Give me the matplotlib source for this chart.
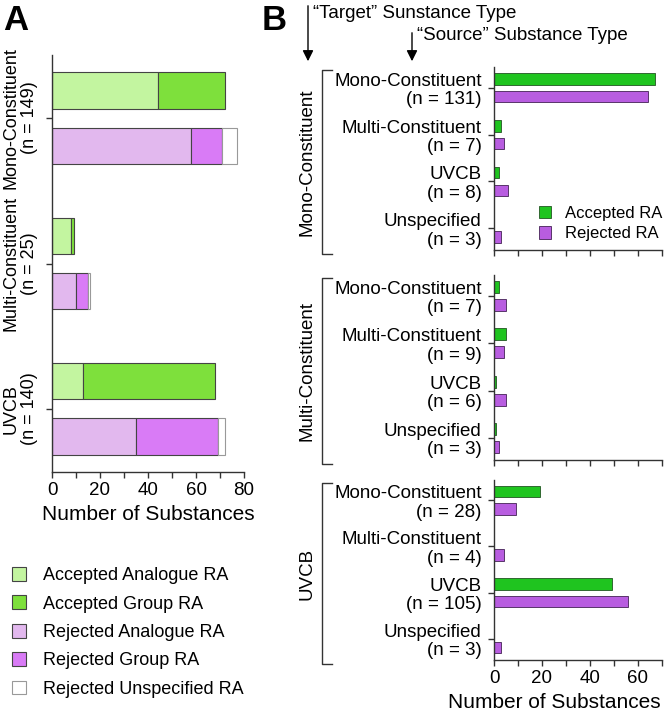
import numpy as np
import matplotlib
matplotlib.use('Agg')
import matplotlib.pyplot as plt

plt.rcParams['font.family'] = ['Liberation Sans', 'DejaVu Sans']

# ---- panel A data: RA outcome per substance type ----
groups_a = ['Mono-Constituent\n(n = 149)', 'Multi-Constituent\n(n = 25)', 'UVCB\n(n = 140)']
acc_analogue = [44, 8, 13]
acc_group = [28, 1, 55]
rej_analogue = [58, 10, 35]
rej_group = [13, 5, 34]
rej_unspec = [6, 1, 3]

# ---- panel B data: target type -> source type ----
target_types = ['Mono-Constituent', 'Multi-Constituent', 'UVCB']
source_types = ['Mono-Constituent', 'Multi-Constituent', 'UVCB', 'Unspecified']
source_n = [[131, 7, 8, 3], [7, 9, 6, 3], [28, 4, 105, 3]]
accepted_b = [[67, 3, 2, 0], [2, 5, 1, 1], [19, 0, 49, 0]]
rejected_b = [[64, 4, 6, 3], [5, 4, 5, 2], [9, 4, 56, 3]]

W, H = 665, 719
fig = plt.figure(figsize=(W / 100, H / 100), dpi=100)


def add_ax(l, t, r, b):
    return fig.add_axes([l / W, 1 - b / H, (r - l) / W, (b - t) / H])


def style_ax(ax, xmax):
    for s in ['top', 'right']:
        ax.spines[s].set_visible(False)
    for s in ['left', 'bottom']:
        ax.spines[s].set_color('#333333')
        ax.spines[s].set_linewidth(1.0)
    ax.set_xlim(0, xmax)
    ax.set_xticks(np.arange(0, xmax + 1, 20))
    ax.set_xticks(np.arange(10, xmax + 1, 20), minor=True)
    ax.tick_params(axis='both', which='both', direction='out', length=4,
                   width=1, color='#333333', labelsize=13.5)


##############################################################################
# panel A
c_acc_an, c_acc_gr = '#c3f5a0', '#7ee03c'
c_rej_an, c_rej_gr = '#e2b8ee', '#d97bf6'
edge = '#444444'

axA = add_ax(52, 55, 244, 472)
ya = np.arange(len(groups_a))
off, h = 0.19, 0.25
left = np.zeros(3)
for vals, col, lab in [(acc_analogue, c_acc_an, 'Accepted Analogue RA'),
                       (acc_group, c_acc_gr, 'Accepted Group RA')]:
    axA.barh(ya - off, vals, h, left=left, color=col, edgecolor=edge, lw=0.8, label=lab)
    left = left + np.array(vals)
left = np.zeros(3)
for vals, col, lab in [(rej_analogue, c_rej_an, 'Rejected Analogue RA'),
                       (rej_group, c_rej_gr, 'Rejected Group RA'),
                       (rej_unspec, 'white', 'Rejected Unspecified RA')]:
    axA.barh(ya + off, vals, h, left=left, color=col, edgecolor=edge if col != 'white' else '#999999',
             lw=0.8, label=lab)
    left = left + np.array(vals)

style_ax(axA, 80)
axA.set_ylim(2.434, -0.434)
axA.set_yticks(ya)
axA.set_yticklabels(groups_a, rotation=90, va='center', ha='right',
                    multialignment='center', fontsize=13, linespacing=1.15)
axA.tick_params(axis='y', pad=6)
axA.set_xlabel('Number of Substances', fontsize=15, labelpad=4)

fig.legend(*axA.get_legend_handles_labels(), loc='upper left',
           bbox_to_anchor=(12 / W, 1 - 567 / H), frameon=False, fontsize=13,
           handlelength=0.8, handleheight=0.8, handletextpad=0.9,
           labelspacing=0.62, borderpad=0, borderaxespad=0)

fig.text(3 / W, 1 - 4 / H, 'A', fontsize=25, fontweight='bold', va='top')

##############################################################################
# panel B
c_acc, c_rej = '#1fc41f', '#b85de0'
boxes = [(67, 250), (275, 460), (480, 660)]
yb = np.arange(len(source_types))
for i, (t, b) in enumerate(boxes):
    ax = add_ax(494, t, 662, b)
    acc = np.array(accepted_b[i])
    rej = np.array(rejected_b[i])
    ax.barh(yb - off, acc, h, color=c_acc, edgecolor='#225522',
            linewidth=[0 if v == 0 else 0.6 for v in acc], label='Accepted RA')
    ax.barh(yb + off, rej, h, color=c_rej, edgecolor='#442255',
            linewidth=[0 if v == 0 else 0.6 for v in rej], label='Rejected RA')
    style_ax(ax, 70)
    ax.set_ylim(3.46, -0.44)
    ax.set_yticks(yb)
    ax.set_yticklabels(['%s\n(n = %d)' % (s, n) for s, n in zip(source_types, source_n[i])],
                       fontsize=13.5, linespacing=1.1)
    ax.tick_params(axis='y', pad=5)
    if i < 2:
        ax.tick_params(axis='x', labelbottom=False)
    else:
        ax.set_xlabel('Number of Substances', fontsize=15, x=0.36, labelpad=4)
    if i == 0:
        ax.legend(loc='lower right', bbox_to_anchor=(1.09, -0.035), frameon=False, fontsize=12,
                  handlelength=0.75, handleheight=0.75, handletextpad=0.8,
                  labelspacing=0.35)
    # bracket + target label
    bx0, bx1 = (322 - 494) / 168, (332 - 494) / 168
    ax.plot([bx1, bx0, bx0, bx1], [0.985, 0.985, -0.02, -0.02], color='#333333',
            lw=1, transform=ax.transAxes, clip_on=False)
    ax.text((307 - 494) / 168, 0.48, target_types[i], rotation=90, fontsize=13.5,
            ha='center', va='center', transform=ax.transAxes)

fig.text(262 / W, 1 - 4 / H, 'B', fontsize=25, fontweight='bold', va='top')

# header arrows
for x, y0, txt, ty in [(308, 3, '\u201cTarget\u201d Sunstance Type', 14),
                       (412, 30, '\u201cSource\u201d Substance Type', 35)]:
    fig.add_artist(matplotlib.patches.FancyArrowPatch(
        (x / W, 1 - y0 / H), (x / W, 1 - 64 / H), transform=fig.transFigure,
        arrowstyle='-|>', mutation_scale=16, color='black', lw=1))
    fig.text((x + 5) / W, 1 - ty / H, txt, fontsize=13.5, va='center', ha='left')

plt.savefig('out.png', dpi=100)
